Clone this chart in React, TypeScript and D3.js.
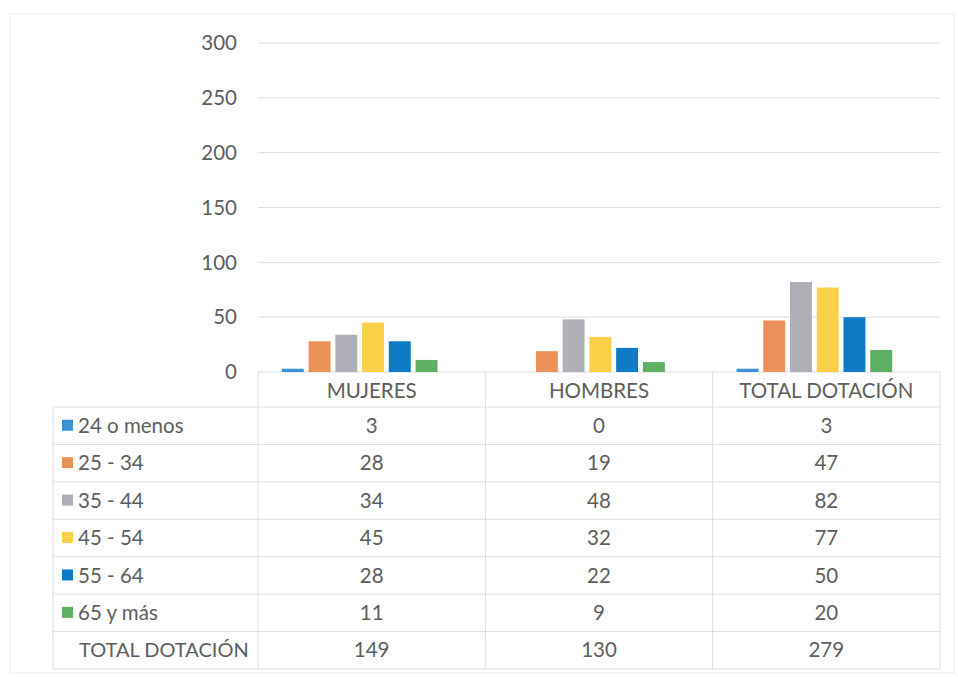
import React from "react";
import * as d3 from "d3";

// Staff headcount by age group, with data table
const categories = ["MUJERES", "HOMBRES", "TOTAL DOTACIÓN"];
const ageGroups = ["24 o menos", "25 - 34", "35 - 44", "45 - 54", "55 - 64", "65 y más"];
const age24 = [3, 0, 3];
const age25 = [28, 19, 47];
const age35 = [34, 48, 82];
const age45 = [45, 32, 77];
const age55 = [28, 22, 50];
const age65 = [11, 9, 20];
const totals = [149, 130, 279];
const totalLabel = "TOTAL DOTACIÓN";
const yTicks = [0, 50, 100, 150, 200, 250, 300];

const seriesValues = [age24, age25, age35, age45, age55, age65];
const colors = ["#3a90d2", "#ea915a", "#afafb8", "#fad048", "#0f7bc7", "#5caf63"];

const FONT = "Lato, 'Open Sans', sans-serif";
const TEXT = "#5e5e5e";
const GRID = "#dcdce6";

export default function App() {
  const W = 958;
  const H = 677;

  const plotLeft = 258;
  const plotRight = 940;
  const plotTop = 43;
  const plotBottom = 372;

  const y = d3.scaleLinear().domain([0, 300]).range([plotBottom, plotTop]);

  // table columns
  const xCol = d3.scaleBand().domain(categories).range([plotLeft, plotRight]);
  // bar clusters (drawn slightly left of the table columns)
  const xBar = d3.scaleBand().domain(categories).range([plotLeft - 12, plotRight - 12]);
  const xInner = d3
    .scaleBand()
    .domain(ageGroups)
    .range([0, xBar.bandwidth()])
    .paddingInner(0.18)
    .paddingOuter(1.34);

  const headerBottom = 407;
  const tableBottom = 669;
  const tableLeft = 53;
  const rowLabels = [...ageGroups, totalLabel];
  const rowValues = [...seriesValues, totals];
  const yRow = d3.scaleBand().domain(rowLabels).range([headerBottom, tableBottom]);

  const fontSize = 20.5;

  return (
    <svg
      width={W}
      height={H}
      style={{ position: "absolute", left: 0, top: 0, background: "#fff" }}
      fontFamily={FONT}
    >
      <rect x={10} y={14} width={944} height={659} fill="none" stroke="#ececf0" strokeWidth={1} />

      {/* gridlines and y labels */}
      {yTicks.map((t) => (
        <g key={t}>
          <line x1={plotLeft} x2={plotRight} y1={y(t)} y2={y(t)} stroke={GRID} strokeWidth={1} />
          <text
            x={237}
            y={y(t)}
            dy="0.35em"
            textAnchor="end"
            fontSize={fontSize}
            fill={TEXT}
          >
            {t}
          </text>
        </g>
      ))}

      {/* bars */}
      {categories.map((c, ci) => (
        <g key={c} transform={`translate(${xBar(c)},0)`}>
          {ageGroups.map((g, gi) => {
            const v = seriesValues[gi][ci];
            if (v <= 0) return null;
            return (
              <rect
                key={g}
                x={xInner(g)}
                y={y(v)}
                width={xInner.bandwidth()}
                height={y(0) - y(v)}
                fill={colors[gi]}
              />
            );
          })}
        </g>
      ))}

      {/* data table grid */}
      <g stroke={GRID} strokeWidth={1} fill="none">
        {categories.map((c) => (
          <line key={c} x1={xCol(c)} x2={xCol(c)} y1={plotBottom} y2={tableBottom} />
        ))}
        <line x1={plotRight} x2={plotRight} y1={plotBottom} y2={tableBottom} />
        <line x1={tableLeft} x2={tableLeft} y1={headerBottom} y2={tableBottom} />
        <line x1={tableLeft} x2={plotRight} y1={headerBottom} y2={headerBottom} />
        {rowLabels.map((r) => (
          <line
            key={r}
            x1={tableLeft}
            x2={plotRight}
            y1={(yRow(r) as number) + yRow.bandwidth()}
            y2={(yRow(r) as number) + yRow.bandwidth()}
          />
        ))}
      </g>

      {/* category headers */}
      {categories.map((c) => (
        <text
          key={c}
          x={(xCol(c) as number) + xCol.bandwidth() / 2}
          y={(plotBottom + headerBottom) / 2 + 1}
          dy="0.35em"
          textAnchor="middle"
          fontSize={fontSize}
          fill={TEXT}
        >
          {c}
        </text>
      ))}

      {/* rows */}
      {rowLabels.map((r, ri) => {
        const cy = (yRow(r) as number) + yRow.bandwidth() / 2;
        const isTotal = ri === rowLabels.length - 1;
        return (
          <g key={r}>
            {!isTotal && (
              <rect x={62} y={cy - 6} width={11} height={11} fill={colors[ri]} />
            )}
            <text
              x={isTotal ? 79 : 78}
              y={cy}
              dy="0.35em"
              fontSize={isTotal ? 20 : fontSize}
              fill={TEXT}
            >
              {r}
            </text>
            {categories.map((c, ci) => (
              <text
                key={c}
                x={(xCol(c) as number) + xCol.bandwidth() / 2}
                y={cy}
                dy="0.35em"
                textAnchor="middle"
                fontSize={fontSize}
                fill={TEXT}
              >
                {rowValues[ri][ci]}
              </text>
            ))}
          </g>
        );
      })}
    </svg>
  );
}
